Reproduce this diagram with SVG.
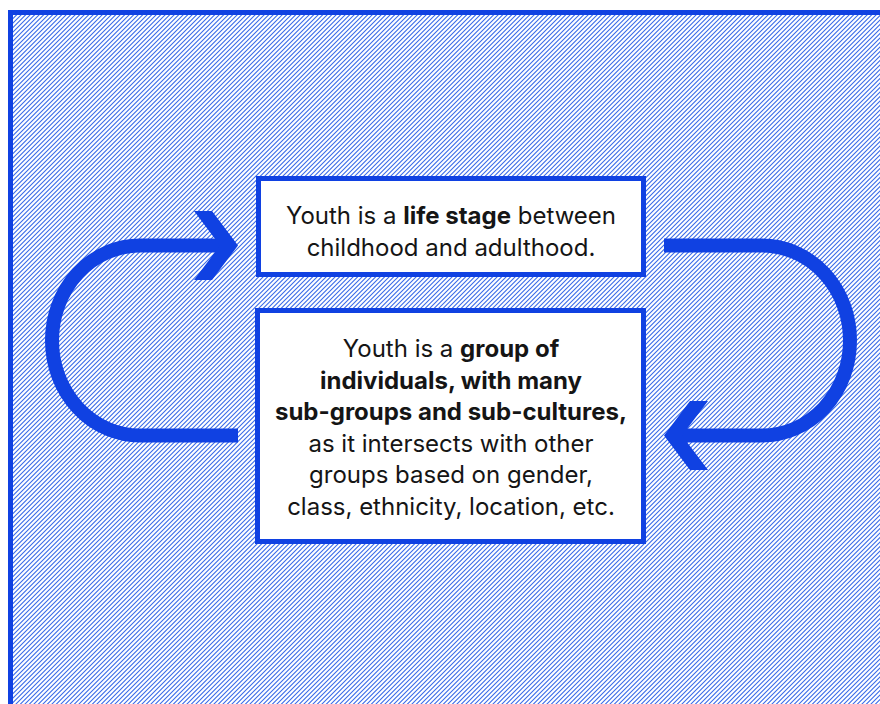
<svg xmlns="http://www.w3.org/2000/svg" width="880" height="704" viewBox="0 0 880 704">
<style>
.t{font-family:Inter,"Noto Sans","Liberation Sans",sans-serif;font-size:24px;fill:#151515;text-anchor:middle}
.b{font-weight:700}
.box{fill:#fff;stroke:#1041e2;stroke-width:5}
.arr{fill:none;stroke:#1041e2;stroke-width:14}
.head{fill:#1041e2}
</style>
<defs>
<pattern id="hatch" x="0" y="0" width="9" height="9" patternUnits="userSpaceOnUse">
<path d="M-1,1 L1,-1 M-5.5,10 L5.5,-1 M-1,10 L10,-1 M3.5,10 L14.5,-1 M8,10 L10,8" stroke="#3a6ae8" stroke-width="1.1" fill="none"/>
</pattern>
</defs>
<rect x="0" y="0" width="880" height="704" fill="#fff"/>
<rect id="frame" x="10.5" y="12.5" width="900" height="720" fill="url(#hatch)" stroke="#1041e2" stroke-width="5"/>
<g id="connectors">
<g id="arrow-left">
<path class="arr" d="M238,435.5 H140 A88,95 0 0 1 140,245.5 H226"/>
<polygon class="head" points="194,211 212,211 238,245.5 212,280 194,280 220,245.5"/>
</g>
<g id="arrow-right" transform="rotate(180 451 340.5)">
<path class="arr" d="M238,435.5 H140 A88,95 0 0 1 140,245.5 H226"/>
<polygon class="head" points="194,211 212,211 238,245.5 212,280 194,280 220,245.5"/>
</g>
</g>
<g id="node-life-stage">
<rect class="box" x="258.5" y="178.5" width="385" height="96"/>
<text class="t" x="451" y="224">Youth is a <tspan class="b">life stage</tspan> between</text>
<text class="t" x="451" y="256">childhood and adulthood.</text>
</g>
<g id="node-group">
<rect class="box" x="257.5" y="310.5" width="386" height="231"/>
<text class="t" x="451" y="357">Youth is a <tspan class="b">group of</tspan></text>
<text class="t b" x="451" y="388.5">individuals, with many</text>
<text class="t b" x="451" y="420">sub-groups and sub-cultures,</text>
<text class="t" x="451" y="451.5">as it intersects with other</text>
<text class="t" x="451" y="483">groups based on gender,</text>
<text class="t" x="451" y="514.5">class, ethnicity, location, etc.</text>
</g>
</svg>
